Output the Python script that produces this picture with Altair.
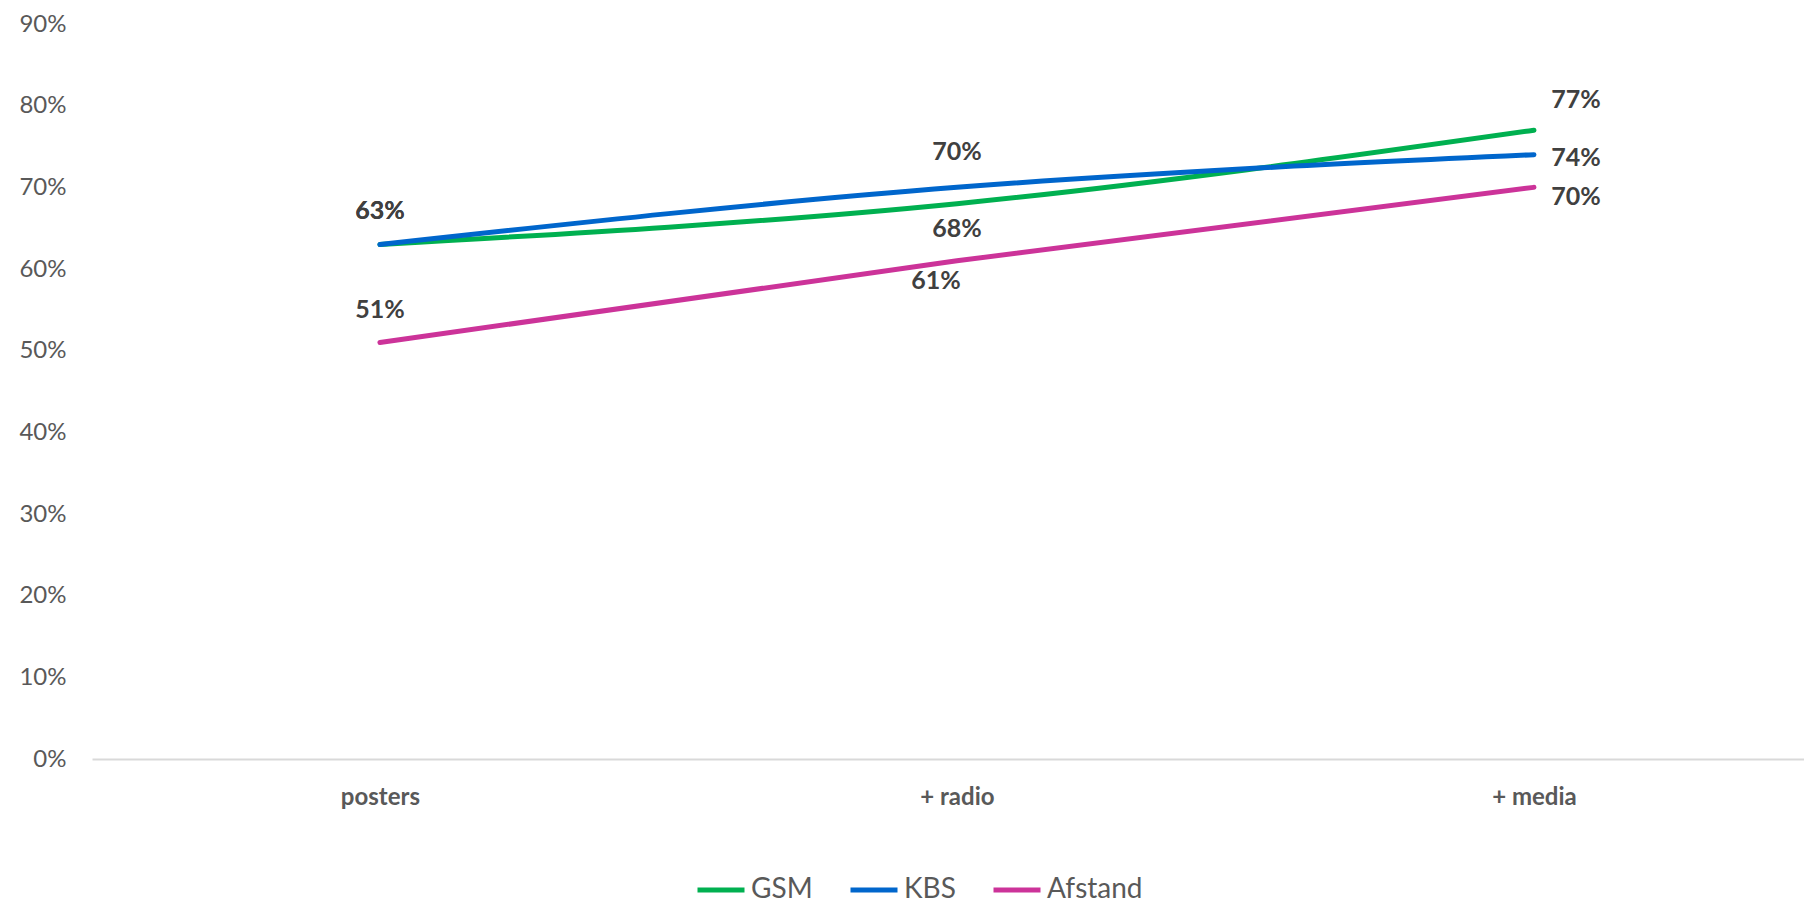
import altair as alt
import pandas as pd

# ---- data ----
categories = ["posters", "+ radio", "+ media"]
series = ["GSM", "KBS", "Afstand"]
gsm = [0.63, 0.68, 0.77]
kbs = [0.63, 0.70, 0.74]
afstand = [0.51, 0.61, 0.70]
y_ticks = [0.0, 0.1, 0.2, 0.3, 0.4, 0.5, 0.6, 0.7, 0.8, 0.9]
colors = ["#00B050", "#0066CC", "#CC3399"]

rows = []
for s, vals in zip(series, [gsm, kbs, afstand]):
    for i, (c, v) in enumerate(zip(categories, vals)):
        rows.append({"series": s, "category": c, "value": v, "order": i})
df = pd.DataFrame(rows)

# label placement (style)
LABEL_OFFSETS = {
    ("GSM", "posters"): (0, -34), ("GSM", "+ radio"): (0, 25), ("GSM", "+ media"): (42, -30),
    ("KBS", "posters"): (0, -34), ("KBS", "+ radio"): (0, -35), ("KBS", "+ media"): (42, 3),
    ("Afstand", "posters"): (0, -33), ("Afstand", "+ radio"): (-21, 20), ("Afstand", "+ media"): (42, 10),
}

FONT = "Lato"
W, H = 1712, 735

x_enc = alt.X(
    "category:N", sort=categories,
    scale=alt.Scale(type="point", padding=0.4835, align=0.516),
    axis=alt.Axis(title=None, labelAngle=0, labelFont=FONT, labelFontSize=24,
                  labelFontWeight="bold", labelColor="#595959", labelPadding=26,
                  ticks=False, domainColor="#D9D9D9", domainWidth=2, grid=False),
)
y_enc = alt.Y(
    "value:Q",
    scale=alt.Scale(domain=[0, 0.9], nice=False),
    axis=alt.Axis(title=None, format=".0%", values=y_ticks, labelFont=FONT,
                  labelFontSize=24, labelColor="#595959", labelPadding=26,
                  ticks=False, domain=False, grid=False),
)

lines = alt.Chart(df).mark_line(strokeWidth=5, strokeCap="round", interpolate="monotone").encode(
    x=x_enc, y=y_enc,
    color=alt.Color("series:N", scale=alt.Scale(domain=series, range=colors),
                    legend=alt.Legend(title=None, orient="none", legendX=603, legendY=840,
                                      direction="horizontal", symbolType="stroke",
                                      symbolStrokeWidth=5, symbolSize=2209,
                                      labelFont=FONT, labelFontSize=28, labelColor="#595959",
                                      columnPadding=27, labelOffset=4)),
    order=alt.Order("order:Q"),
)

layers = [lines]
for s in series:
    for c in categories:
        dx, dy = LABEL_OFFSETS[(s, c)]
        layers.append(
            alt.Chart(df).transform_filter(
                (alt.datum.series == s) & (alt.datum.category == c)
            ).mark_text(dx=dx, dy=dy, font=FONT, fontSize=25, fontWeight="bold",
                        color="#404040", align="center", baseline="middle").encode(
                x=x_enc, y=y_enc, text=alt.Text("value:Q", format=".0%"))
        )

chart = alt.layer(*layers).properties(
    width=W, height=H,
    autosize=alt.AutoSizeParams(type="none"),
    padding={"left": 84, "top": 16, "right": 0, "bottom": 146},
).configure(background="white").configure_view(stroke=None, strokeWidth=0)

chart.save("out.html", embed_options={"renderer": "svg", "actions": False})
